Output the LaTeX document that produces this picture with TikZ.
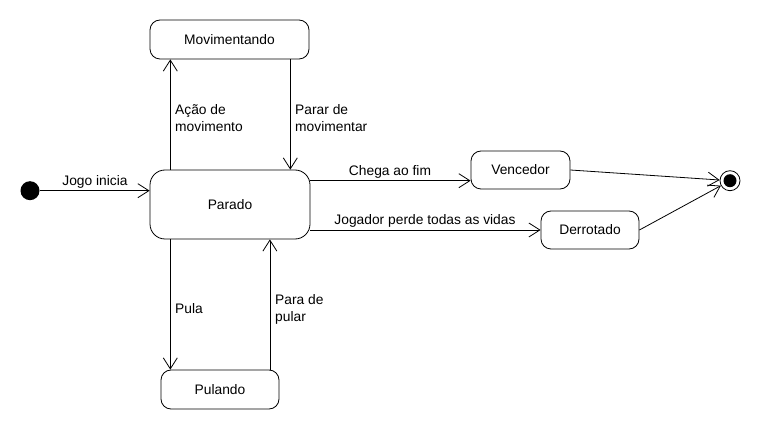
\documentclass[tikz,border=0pt]{standalone}
\usepackage{fontspec}
\setmainfont{Liberation Sans}
\usetikzlibrary{arrows.meta,calc}
\begin{document}
\begin{tikzpicture}[x=1pt,y=-1pt,
  state/.style={draw,rectangle,rounded corners=10pt,line width=0.8pt,inner sep=0pt,font=\fontsize{13.8}{16}\selectfont},
  arr/.style={line width=0.8pt,-{Straight Barb[length=11pt,width=14pt,line width=0.8pt]}},
  lbl/.style={inner sep=0pt,align=left,font=\fontsize{13.8}{17}\selectfont}]
\fill[white] (0,0) rectangle (760,430);
\useasboundingbox (0,0) rectangle (760,430);
% states
\node[state,rounded corners=15pt,minimum width=160pt,minimum height=69pt] (parado) at (230,204.5) {Parado};
\node[state,minimum width=159pt,minimum height=39pt] (mov) at (229.5,39.5) {Movimentando};
\node[state,minimum width=118pt,minimum height=39pt] (pul) at (220,389.5) {Pulando};
\node[state,minimum width=99pt,minimum height=38pt] (ven) at (520.5,170) {Vencedor};
\node[state,minimum width=98pt,minimum height=38pt] (der) at (590,230) {Derrotado};
\node[circle,fill=black,minimum size=19pt,inner sep=0pt] (ini) at (30,190.7) {};
\node[circle,draw,line width=0.8pt,minimum size=20pt,inner sep=0pt] (fin) at (730,180.7) {};
\node[circle,fill=black,minimum size=13pt,inner sep=0pt] (fin2) at (fin) {};
% transitions
\draw[arr] (ini.east) -- (ini -| parado.west);
\draw[arr] ([xshift=20.7pt]parado.north west) -- ([xshift=20.7pt]parado.north west |- mov.south);
\draw[arr] ([xshift=140.7pt]mov.south west) -- ([xshift=140.7pt]mov.south west |- parado.north);
\draw[arr] ([xshift=20.7pt]parado.south west) -- ([xshift=20.7pt]parado.south west |- pul.north);
\draw[arr] ([xshift=109.3pt]pul.north west) -- ([xshift=109.3pt]pul.north west |- parado.south);
\coordinate (venin) at ($(ven.west)+(0,10.7)$);
\draw[arr] (parado.east |- venin) -- (venin);
\draw[arr] (parado.east |- der.west) -- (der.west);
\draw[arr] (ven.east) -- (fin);
\draw[arr] (der.east) -- (fin);
% labels
\node[lbl] (l1) at (95,182) {Jogo inicia};
\node[lbl,anchor=west] (l2) at (175,118.5) {Ação de\\movimento};
\node[lbl,anchor=west] (l3) at (295,118.5) {Parar de\\movimentar};
\node[lbl,anchor=west] (l4) at (175,309) {Pula};
\node[lbl,anchor=west] (l5) at (275,309) {Para de\\pular};
\node[lbl] (l6) at (390,171.7) {Chega ao fim};
\node[lbl] (l7) at (425,221) {Jogador perde todas as vidas};
\end{tikzpicture}
\end{document}
